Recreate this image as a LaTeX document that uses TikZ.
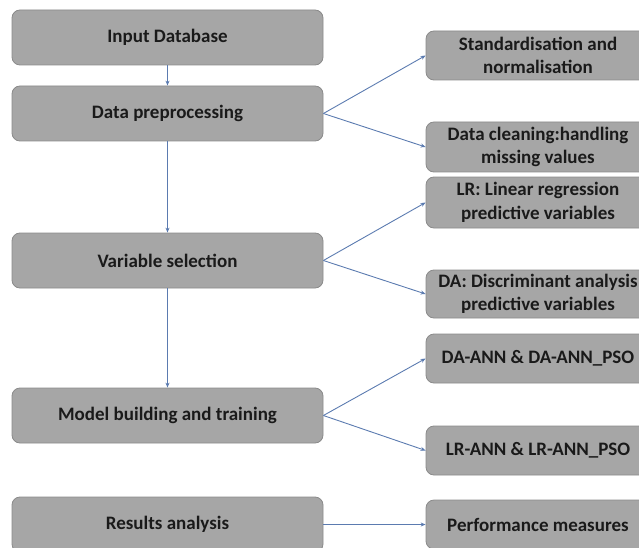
\documentclass[tikz,border=0pt]{standalone}
\usepackage{fontspec}
\setmainfont{Carlito}
\usetikzlibrary{arrows.meta}
\definecolor{boxfill}{HTML}{A6A6A6}
\definecolor{boxline}{HTML}{8A8A8A}
\definecolor{arrowcol}{HTML}{5B7BB0}
\definecolor{txt}{HTML}{1A1A1A}
\tikzset{
  lbox/.style={draw=boxline, line width=0.8pt, fill=boxfill, rounded corners=8pt,
    minimum width=311pt, inner sep=0pt, align=center, text=txt,
    font=\fontsize{19}{23.5}\selectfont\bfseries},
  rbox/.style={draw=boxline, line width=0.8pt, fill=boxfill, rounded corners=8pt,
    minimum width=224pt, inner sep=0pt, align=center, text=txt,
    font=\fontsize{19}{23.5}\selectfont\bfseries},
  conn/.style={draw=arrowcol, line width=0.9pt, -{Stealth[length=5pt,width=4pt]}}
}
\begin{document}
\begin{tikzpicture}[x=1pt,y=-1pt]
\useasboundingbox (0,0) rectangle (639,548);
\clip (0,0) rectangle (639,548);
% left column
\node[lbox, minimum height=55pt] (inp) at (167.5,37.5) {Input Database};
\node[lbox, minimum height=55pt] (pre) at (167.5,113.5) {Data preprocessing};
\node[lbox, minimum height=55pt] (var) at (167.5,260.5) {Variable selection};
\node[lbox, minimum height=55pt] (mod) at (167.5,415.5) {Model building and training};
\node[lbox, minimum height=55pt] (res) at (167.5,524.5) {Results analysis};
% right column
\node[rbox, minimum height=49pt] (std) at (538,55.5) {Standardisation and\\normalisation};
\node[rbox, minimum height=50pt] (cln) at (538,147) {Data cleaning:handling\\missing values};
\node[rbox, minimum height=51pt] (lr) at (538,202.5) {LR: Linear regression\\predictive variables};
\node[rbox, minimum height=48pt] (da) at (538,294) {DA: Discriminant analysis\\predictive variables};
\node[rbox, minimum height=49pt] (daann) at (538,358.5) {DA-ANN \& DA-ANN\_PSO};
\node[rbox, minimum height=49pt] (lrann) at (538,450.5) {LR-ANN \& LR-ANN\_PSO};
\node[rbox, minimum height=49pt] (perf) at (538,524.5) {Performance measures};
% vertical connectors
\draw[conn] (inp.south) -- (pre.north);
\draw[conn] (pre.south) -- (var.north);
\draw[conn] (var.south) -- (mod.north);
% branching connectors
\draw[conn] (pre.east) -- (std.west);
\draw[conn] (pre.east) -- (cln.west);
\draw[conn] (var.east) -- (lr.west);
\draw[conn] (var.east) -- (da.west);
\draw[conn] (mod.east) -- (daann.west);
\draw[conn] (mod.east) -- (lrann.west);
\draw[conn] (res.east) -- (perf.west);
\end{tikzpicture}
\end{document}
